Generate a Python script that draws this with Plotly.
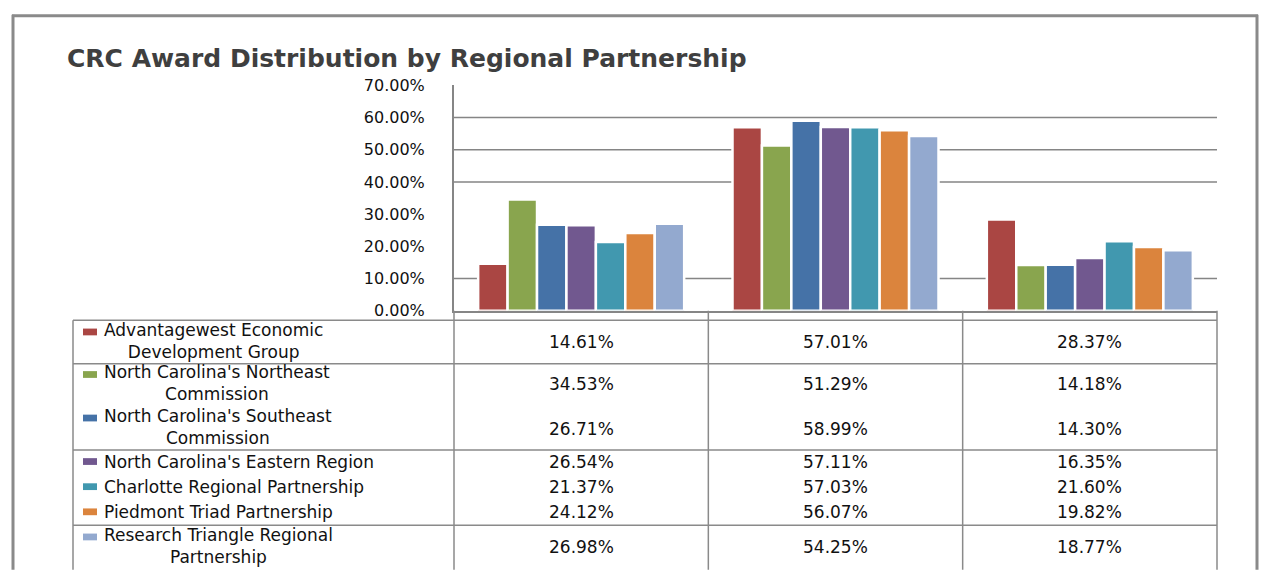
import plotly.graph_objects as go

# ---------------- data ----------------
CATEGORIES = ["Bronze", "Silver", "Gold"]
SERIES_NAMES = [
    "Advantagewest Economic Development Group",
    "North Carolina's Northeast Commission",
    "North Carolina's Southeast Commission",
    "North Carolina's Eastern Region",
    "Charlotte Regional Partnership",
    "Piedmont Triad Partnership",
    "Research Triangle Regional Partnership",
]
TABLE_LABELS = [
    "Advantagewest Economic<br>Development Group",
    "North Carolina's Northeast<br>Commission",
    "North Carolina's Southeast<br>Commission",
    "North Carolina's Eastern Region",
    "Charlotte Regional Partnership",
    "Piedmont Triad Partnership",
    "Research Triangle Regional<br>Partnership",
]
advantagewest = [14.61, 57.01, 28.37]
northeast = [34.53, 51.29, 14.18]
southeast = [26.71, 58.99, 14.30]
eastern = [26.54, 57.11, 16.35]
charlotte = [21.37, 57.03, 21.60]
piedmont = [24.12, 56.07, 19.82]
research_triangle = [26.98, 54.25, 18.77]
SERIES_VALUES = [advantagewest, northeast, southeast, eastern,
                 charlotte, piedmont, research_triangle]
Y_TICKS = [0, 10, 20, 30, 40, 50, 60, 70]
Y_TICK_TEXT = ["0.00%", "10.00%", "20.00%", "30.00%", "40.00%", "50.00%", "60.00%", "70.00%"]
GRID_VALUES = [10, 40, 50, 60]
TITLE = "CRC Award Distribution by Regional Partnership"

# ---------------- style ----------------
COLORS = ["#AA4643", "#89A54E", "#4572A7", "#71588F", "#4198AF", "#DB843D", "#93A9CF"]
W, H = 1270, 575
FONT = "DejaVu Sans"
LINE_C = "#8A8A8A"
TXT_C = "#111111"

def px(x):
    return x / W

def py(y):
    return 1 - y / H

# label block centre, legend-key centre, value centre (pixels)
ROW_LAYOUT = [
    (343, 334, 344),
    (387, 378, 388),
    (432, 423, 434),
    (468, 468, 468),
    (494, 494, 494),
    (520, 520, 520),
    (555, 546, 556),
]

fig = go.Figure()
for name, vals, col in zip(SERIES_NAMES, SERIES_VALUES, COLORS):
    fig.add_trace(go.Bar(
        x=CATEGORIES, y=vals, name=name,
        marker=dict(color=col, line=dict(color="white", width=2.5)),
    ))

shapes = []
# outer frame
shapes += [
    dict(type="line", xref="paper", yref="paper", x0=px(13), x1=px(13), y0=py(6), y1=py(580),
         line=dict(color=LINE_C, width=3)),
    dict(type="line", xref="paper", yref="paper", x0=px(12), x1=px(1258), y0=py(7), y1=py(7),
         line=dict(color=LINE_C, width=3)),
    dict(type="line", xref="paper", yref="paper", x0=px(1257), x1=px(1257), y0=py(6), y1=py(580),
         line=dict(color=LINE_C, width=3)),
]
# gridlines
for v in GRID_VALUES:
    shapes.append(dict(type="line", xref="x domain", yref="y", x0=0, x1=1, y0=v, y1=v,
                       layer="below", line=dict(color="#858585", width=1.5)))
# table column dividers (category boundaries)
for i in range(len(CATEGORIES) + 1):
    shapes.append(dict(type="line", xref="x domain", yref="paper",
                       x0=i / len(CATEGORIES), x1=i / len(CATEGORIES),
                       y0=py(312), y1=py(580), line=dict(color=LINE_C, width=1.5)))
# table left border
shapes.append(dict(type="line", xref="paper", yref="paper", x0=px(73), x1=px(73),
                   y0=py(322), y1=py(580), line=dict(color=LINE_C, width=1.5)))
# table horizontal lines
for yy in [322, 367, 456, 534]:
    shapes.append(dict(type="line", xref="paper", yref="paper", x0=px(73), x1=px(1217),
                       y0=py(yy), y1=py(yy), line=dict(color=LINE_C, width=1.5)))

annotations = []
for i, (lab, col, vals) in enumerate(zip(TABLE_LABELS, COLORS, SERIES_VALUES)):
    block_y, key_y, val_y = ROW_LAYOUT[i]
    shapes.append(dict(type="rect", xref="paper", yref="paper",
                       x0=px(83), x1=px(97), y0=py(key_y + 3.5), y1=py(key_y - 3.5),
                       fillcolor=col, line=dict(width=0)))
    annotations.append(dict(xref="paper", yref="paper", x=px(102), y=py(block_y),
                            xanchor="left", yanchor="middle", align="center",
                            text=lab, showarrow=False,
                            font=dict(family=FONT, size=17, color=TXT_C)))
    for cat, v in zip(CATEGORIES, vals):
        annotations.append(dict(xref="x", yref="paper", x=cat, y=py(val_y),
                                xanchor="center", yanchor="middle",
                                text=f"{v:.2f}%", showarrow=False,
                                font=dict(family=FONT, size=17, color=TXT_C)))
annotations.append(dict(xref="paper", yref="paper", x=px(65), y=py(51),
                        xanchor="left", yanchor="middle", text=f"<b>{TITLE}</b>",
                        showarrow=False, font=dict(family=FONT, size=25, color="#3F3F3F")))

fig.update_layout(
    width=W, height=H, autosize=False,
    margin=dict(l=0, r=0, t=0, b=0, pad=0),
    paper_bgcolor="white", plot_bgcolor="white",
    showlegend=False,
    barmode="group", bargap=0.19, bargroupgap=0,
    xaxis=dict(domain=[px(454), px(1217)], showticklabels=False, ticks="",
               showgrid=False, zeroline=False, showline=True,
               linecolor="#868686", linewidth=2),
    yaxis=dict(domain=[py(312), py(79)], range=[0, 70], tickvals=Y_TICKS,
               ticktext=Y_TICK_TEXT, ticks="", ticklabelstandoff=24,
               showgrid=False, zeroline=False, showline=True,
               linecolor="#868686", linewidth=2,
               tickfont=dict(family=FONT, size=16, color=TXT_C)),
    shapes=shapes,
    annotations=annotations,
)

fig.write_html("out.html")
